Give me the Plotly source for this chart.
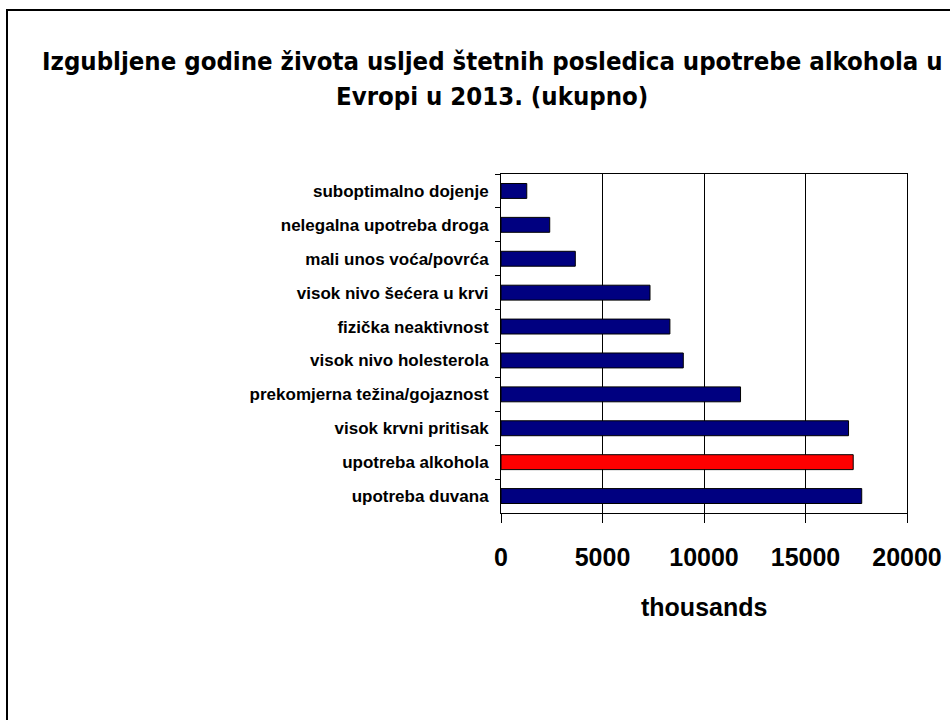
import plotly.graph_objects as go

categories = [
    "suboptimalno dojenje",
    "nelegalna upotreba droga",
    "mali unos voća/povrća",
    "visok nivo šećera u krvi",
    "fizička neaktivnost",
    "visok nivo holesterola",
    "prekomjerna težina/gojaznost",
    "visok krvni pritisak",
    "upotreba alkohola",
    "upotreba duvana",
]
values = [1270, 2400, 3660, 7340, 8320, 8980, 11800, 17120, 17350, 17770]
bar_colors = ["#000080"] * 8 + ["#FF0000", "#000080"]
x_ticks = [0, 5000, 10000, 15000, 20000]
title_lines = [
    "Izgubljene godine života usljed štetnih posledica upotrebe alkohola u",
    "Evropi u 2013. (ukupno)",
]
x_label = "thousands"

W, H = 950, 720
L, R, T, B = 501, 907, 174, 513
pw, ph = R - L, B - T


def px_x(x):
    return (x - L) / pw


def px_y(y):
    return (B - y) / ph


fig = go.Figure()
fig.add_trace(go.Bar(
    y=categories, x=values, orientation="h",
    marker=dict(color=bar_colors, line=dict(color="#000000", width=1)),
    showlegend=False,
))

tick_font = dict(family="Arial, Liberation Sans, sans-serif", size=17, color="#000000", weight="bold")
title_font = dict(family="DejaVu Sans Condensed, DejaVu Sans, sans-serif", size=25.5,
                  color="#000000", weight="bold")

fig.update_layout(
    template="none",
    width=W, height=H,
    margin=dict(l=L, r=W - R, t=T, b=H - B, pad=0, autoexpand=False),
    paper_bgcolor="#FFFFFF", plot_bgcolor="#FFFFFF",
    bargap=0.56,
    xaxis=dict(
        range=[0, 20000], tickvals=x_ticks, ticktext=[str(v) for v in x_ticks],
        showgrid=True, gridcolor="#000000", gridwidth=1,
        showline=True, linecolor="#000000", linewidth=1, mirror=True,
        ticks="outside", ticklen=9, tickcolor="#000000", tickwidth=1,
        tickfont=dict(family="Arial, Liberation Sans, sans-serif", size=25, color="#000000", weight="bold"),
        ticklabelstandoff=13, automargin=False,
        zeroline=False, fixedrange=True,
    ),
    yaxis=dict(
        categoryorder="array", categoryarray=categories, autorange="reversed",
        showline=True, linecolor="#000000", linewidth=1, mirror=True,
        ticks="outside", ticklen=5, tickcolor="#000000", tickwidth=1,
        tickson="boundaries", automargin=False,
        tickfont=tick_font, ticklabelstandoff=8,
        showgrid=False, zeroline=False, fixedrange=True,
    ),
    shapes=[
        dict(type="line", xref="paper", yref="paper",
             x0=px_x(7), x1=px_x(7), y0=px_y(10), y1=px_y(730),
             line=dict(color="#000000", width=2)),
        dict(type="line", xref="paper", yref="paper",
             x0=px_x(6), x1=px_x(960), y0=px_y(10), y1=px_y(10),
             line=dict(color="#000000", width=2)),
    ],
    annotations=[
        dict(text=title_lines[0], xref="paper", yref="paper",
             x=px_x(492), y=px_y(61), xanchor="center", yanchor="middle",
             showarrow=False, font=title_font),
        dict(text=title_lines[1], xref="paper", yref="paper",
             x=px_x(492), y=px_y(96), xanchor="center", yanchor="middle",
             showarrow=False, font=title_font),
        dict(text=x_label, xref="paper", yref="paper",
             x=px_x(704), y=px_y(607), xanchor="center", yanchor="middle",
             showarrow=False,
             font=dict(family="Arial, Liberation Sans, sans-serif", size=25, color="#000000", weight="bold")),
    ],
)

fig.write_html("out.html", config={"displayModeBar": False})
